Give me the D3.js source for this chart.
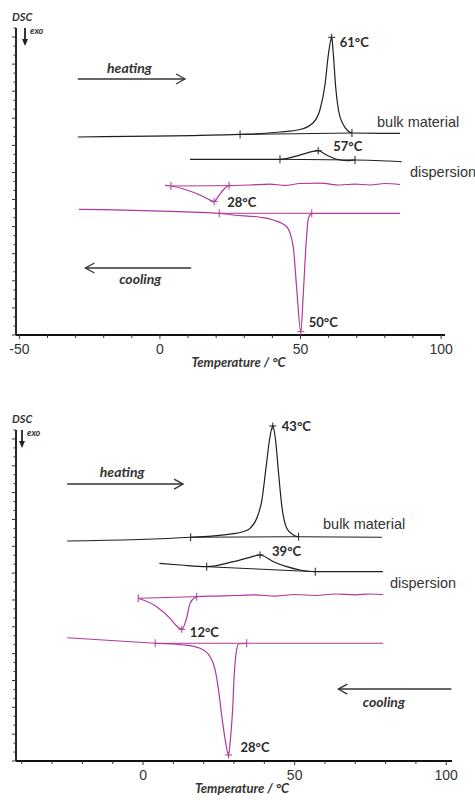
<!DOCTYPE html>
<html><head><meta charset="utf-8">
<script src="https://cdn.jsdelivr.net/npm/d3@7/dist/d3.min.js"></script>
<style>body{margin:0;background:#fff}svg{display:block}</style>
</head><body><svg id="c" width="475" height="800"></svg>
<script>
// ---------- DATA (temperature °C, DSC signal in arbitrary units) ----------
// Upper panel
const topBulkHeating = [[-29.2,21.93],[28.5,22.21],[42.7,22.48],[49.8,22.76],[54.4,23.48],[56.9,24.92],[58.7,27.69],[59.9,31.01],[61.1,32.97],[61.7,31.01],[62.5,27.5],[63.5,24.92],[65.1,23.37],[66.9,22.59],[68.3,22.37],[85.4,22.32]];
const topDispHeating = [[10.7,19.46],[30,19.46],[42.7,19.46],[49.8,19.93],[54.0,20.30],[56.3,20.41],[59.3,19.93],[62.9,19.46],[66.4,19.30],[69.4,19.38],[86.0,19.19]];
const topDispCooling = [[1.8,16.56],[3.9,16.50],[9.5,16.06],[14.2,15.51],[17.2,15.03],[19.3,14.77],[20.7,15.32],[22.5,16.06],[24.6,16.54],[32.0,16.61],[39.1,16.72],[44.5,16.56],[49.8,16.78],[56.9,16.82],[64.1,16.61],[69.4,16.72],[74.7,16.61],[80.1,16.78],[85.4,16.67]];
const topBulkCooling = [[-28.8,13.92],[21.1,13.48],[26.0,13.29],[35.6,13.04],[40.3,12.74],[45.1,11.99],[47.4,9.78],[48.6,5.35],[50.1,0.37],[51.0,4.62],[52.0,10.16],[52.8,12.92],[54.0,13.48],[85.4,13.46]];
const topOnsets = [[28.5,68.3],[42.7,69.4],[3.9,24.6],[21.1,54.0]];
const topPeaks = [61.1, 56.3, 19.3, 50.1];
const topPeakLabels = ["61°C","57°C","28°C","50°C"];

// Lower panel
const botBulkHeating = [[-25.0,24.59],[15.7,25.01],[28.7,25.37],[33.0,25.63],[35.3,26.01],[37.5,27.13],[39.2,29.17],[40.6,32.90],[41.7,35.88],[42.8,37.45],[43.7,35.88],[44.7,32.16],[45.8,28.43],[47.4,26.01],[49.6,25.26],[51.3,25.07],[78.8,25.01]];
const botDispHeating = [[5.4,22.10],[12.3,21.91],[21.0,21.72],[29.8,22.28],[35.3,22.77],[38.6,23.03],[43.0,22.28],[47.4,21.72],[51.8,21.35],[56.8,21.16],[79.1,21.16]];
const botDispCooling = [[-1.6,18.19],[4.5,17.25],[8.9,15.95],[11.1,15.09],[12.8,14.72],[14.2,15.76],[15.5,17.62],[17.2,18.29],[17.7,18.37],[23.8,18.44],[30.4,18.50],[37.0,18.56],[43.6,18.44],[50.2,18.61],[56.8,18.50],[63.4,18.67],[70.0,18.56],[74.9,18.67],[79.2,18.61]];
const botBulkCooling = [[-25.0,13.78],[4.0,13.16],[13.3,12.97],[18.8,12.60],[22.1,11.66],[23.8,10.17],[24.9,7.94],[26.0,4.95],[27.1,2.35],[28.2,0.67],[28.9,2.72],[29.6,6.07],[30.1,9.80],[30.7,12.04],[31.5,13.08],[34.2,13.16],[79.2,13.16]];
const botOnsets = [[15.7,51.3],[21.0,56.8],[-1.6,17.7],[4.0,34.2]];
const botPeaks = [42.8, 38.6, 12.8, 28.2];
const botPeakLabels = ["43°C","39°C","12°C","28°C"];

const topXTicks = [-50,0,50,100];
const botXTicks = [0,50,100];
const seriesNames = ["bulk material","dispersion"];
const arrowTexts = ["heating","cooling"];
const axisTitle = "Temperature / °C";

// ---------- DRAW ----------
const svg = d3.select("#c");
const BLACK = "#1e1e1e", MAG = "#b1389c", TXT = "#2a2a2a";
const labelFont = "Lato, 'Open Sans', sans-serif";

function interp(data, t){
  for(let i=0;i<data.length-1;i++){
    const a=data[i], b=data[i+1];
    if(t>=a[0] && t<=b[0]){ const f=(t-a[0])/(b[0]-a[0]||1); return a[1]+f*(b[1]-a[1]); }
  }
  return data[data.length-1][1];
}

function panel(cfg){
  const g = svg.append("g");
  const x = d3.scaleLinear().domain(cfg.xDom).range(cfg.xRange);
  const y = d3.scaleLinear().domain(cfg.yDom).range(cfg.yRange);
  // axes
  const xMinor = d3.range(cfg.xMinorStart, cfg.xDom[1], 10);
  g.append("line").attr("x1",cfg.xRange[0]).attr("x2",cfg.xRange[1]).attr("y1",cfg.yRange[0]).attr("y2",cfg.yRange[0]).attr("stroke","#111").attr("stroke-width",1.8);
  g.append("line").attr("x1",cfg.xRange[0]).attr("x2",cfg.xRange[0]).attr("y1",cfg.yRange[0]).attr("y2",cfg.yRange[1]).attr("stroke","#111").attr("stroke-width",1.8);
  g.selectAll(".xt").data(xMinor).join("line")
    .attr("x1",d=>x(d)).attr("x2",d=>x(d)).attr("y1",cfg.yRange[0]).attr("y2",d=>cfg.yRange[0]+(d%50===0?4:3))
    .attr("stroke","#333").attr("stroke-width",1);
  g.selectAll(".xl").data(cfg.xTicks).join("text")
    .attr("x",d=>x(d)).attr("y",cfg.yRange[0]+19).attr("text-anchor","middle")
    .attr("font-family","'Liberation Sans', Arial, sans-serif").attr("font-size",14).attr("fill","#333").text(d=>d);
  const yt = d3.range(0, cfg.yDom[1]+0.01, 1);
  g.selectAll(".yt").data(yt).join("line")
    .attr("x1",cfg.xRange[0]).attr("x2",d=>cfg.xRange[0]-(d%3===0?4:2.5)).attr("y1",d=>y(d)).attr("y2",d=>y(d))
    .attr("stroke","#333").attr("stroke-width",1);
  g.append("text").attr("x",(cfg.xRange[0]+cfg.xRange[1])/2+8).attr("y",cfg.yRange[0]+32).attr("text-anchor","middle")
    .attr("font-family",labelFont).attr("font-weight",700).attr("font-style","italic").attr("font-size",13).attr("fill","#333").text(axisTitle);
  // DSC / exo
  g.append("text").attr("x",12).attr("y",cfg.yRange[1]-7).attr("font-family",labelFont).attr("font-weight",700).attr("font-style","italic").attr("font-size",11).attr("fill","#333").text("DSC");
  g.append("line").attr("x1",cfg.exoX).attr("x2",cfg.exoX).attr("y1",cfg.yRange[1]).attr("y2",cfg.yRange[1]+13).attr("stroke","#222").attr("stroke-width",1.8);
  g.append("path").attr("d",`M${cfg.exoX-3},${cfg.yRange[1]+11}L${cfg.exoX+3},${cfg.yRange[1]+11}L${cfg.exoX},${cfg.yRange[1]+18}Z`).attr("fill","#222");
  g.append("text").attr("x",cfg.exoX+5).attr("y",cfg.yRange[1]+6).attr("font-family",labelFont).attr("font-style","italic").attr("font-weight",700).attr("font-size",9).attr("fill","#333").text("exo");

  const line = d3.line().x(d=>x(d[0])).y(d=>y(d[1])).curve(d3.curveMonotoneX);
  cfg.series.forEach((s,i)=>{
    const col = i<2?BLACK:MAG;
    const on = cfg.onsets[i];
    g.append("line").attr("x1",x(on[0])).attr("x2",x(on[1])).attr("y1",y(interp(s,on[0]))).attr("y2",y(interp(s,on[1])))
      .attr("stroke",col).attr("stroke-width",1);
    g.append("path").attr("d",line(s)).attr("fill","none").attr("stroke",col).attr("stroke-width",1.2);
    on.forEach(t=>{
      const px=x(t), py=y(interp(s,t));
      g.append("line").attr("x1",px).attr("x2",px).attr("y1",py-4).attr("y2",py+4).attr("stroke",col).attr("stroke-width",1);
    });
    const pt = cfg.peaks[i], ppx=x(pt), ppy=y(interp(s,pt));
    g.append("line").attr("x1",ppx-3.5).attr("x2",ppx+3.5).attr("y1",ppy).attr("y2",ppy).attr("stroke",col).attr("stroke-width",1);
    g.append("line").attr("x1",ppx).attr("x2",ppx).attr("y1",ppy-3.5).attr("y2",ppy+3.5).attr("stroke",col).attr("stroke-width",1);
    const off = cfg.labelOff[i];
    g.append("text").attr("x",ppx+off[0]).attr("y",ppy+off[1]).attr("font-family",labelFont).attr("font-weight",700)
      .attr("font-size",13).attr("fill",TXT).text(cfg.peakLabels[i]);
  });
  cfg.names.forEach((n,i)=>{
    g.append("text").attr("x",n[0]).attr("y",n[1]).attr("font-family","'Liberation Sans', Arial, sans-serif").attr("font-size",14.5).attr("fill","#333").text(seriesNames[i]);
  });
  cfg.arrows.forEach((a,i)=>{
    const [t1,t2,v,dir] = a;
    const x1=x(t1), x2=x(t2), yy=y(v);
    g.append("line").attr("x1",x1).attr("x2",x2).attr("y1",yy).attr("y2",yy).attr("stroke","#333").attr("stroke-width",1.5);
    const tip = dir>0?x2:x1;
    g.append("path").attr("d",`M${tip-dir*9},${yy-5}L${tip},${yy}L${tip-dir*9},${yy+5}`).attr("fill","none").attr("stroke","#333").attr("stroke-width",1.3);
    g.append("text").attr("x",(x1+x2)/2+cfg.arrowTextDx[i]).attr("y",yy+cfg.arrowTextDy[i]).attr("text-anchor","middle")
      .attr("font-family",labelFont).attr("font-weight",700).attr("font-style","italic").attr("font-size",14).attr("fill","#333").text(arrowTexts[i]);
  });
}

panel({
  xDom:[-51.2,101.4], xRange:[16,445], yDom:[0,34], yRange:[335,28], xMinorStart:-50, xTicks:topXTicks, exoX:25,
  series:[topBulkHeating, topDispHeating, topDispCooling, topBulkCooling],
  onsets:topOnsets, peaks:topPeaks, peakLabels:topPeakLabels,
  labelOff:[[8,10],[15,0],[13,5],[8,-5]],
  names:[[377,127],[410,177]],
  arrows:[[-29.2,8.9,28.35,1],[-26.5,11.1,7.42,-1]], arrowTextDx:[-2,2], arrowTextDy:[-6,16]
});
panel({
  xDom:[-41.9,101.9], xRange:[16,452], yDom:[0,37], yRange:[761,430], xMinorStart:-40, xTicks:botXTicks, exoX:22,
  series:[botBulkHeating, botDispHeating, botDispCooling, botBulkCooling],
  onsets:botOnsets, peaks:botPeaks, peakLabels:botPeakLabels,
  labelOff:[[9,5],[12,1],[8,8],[12,-3]],
  names:[[323,529],[390,588]],
  arrows:[[-25.0,13.2,30.95,1],[64.4,101.7,8.04,-1]], arrowTextDx:[-3,-11], arrowTextDy:[-7,18]
});
</script></body></html>
